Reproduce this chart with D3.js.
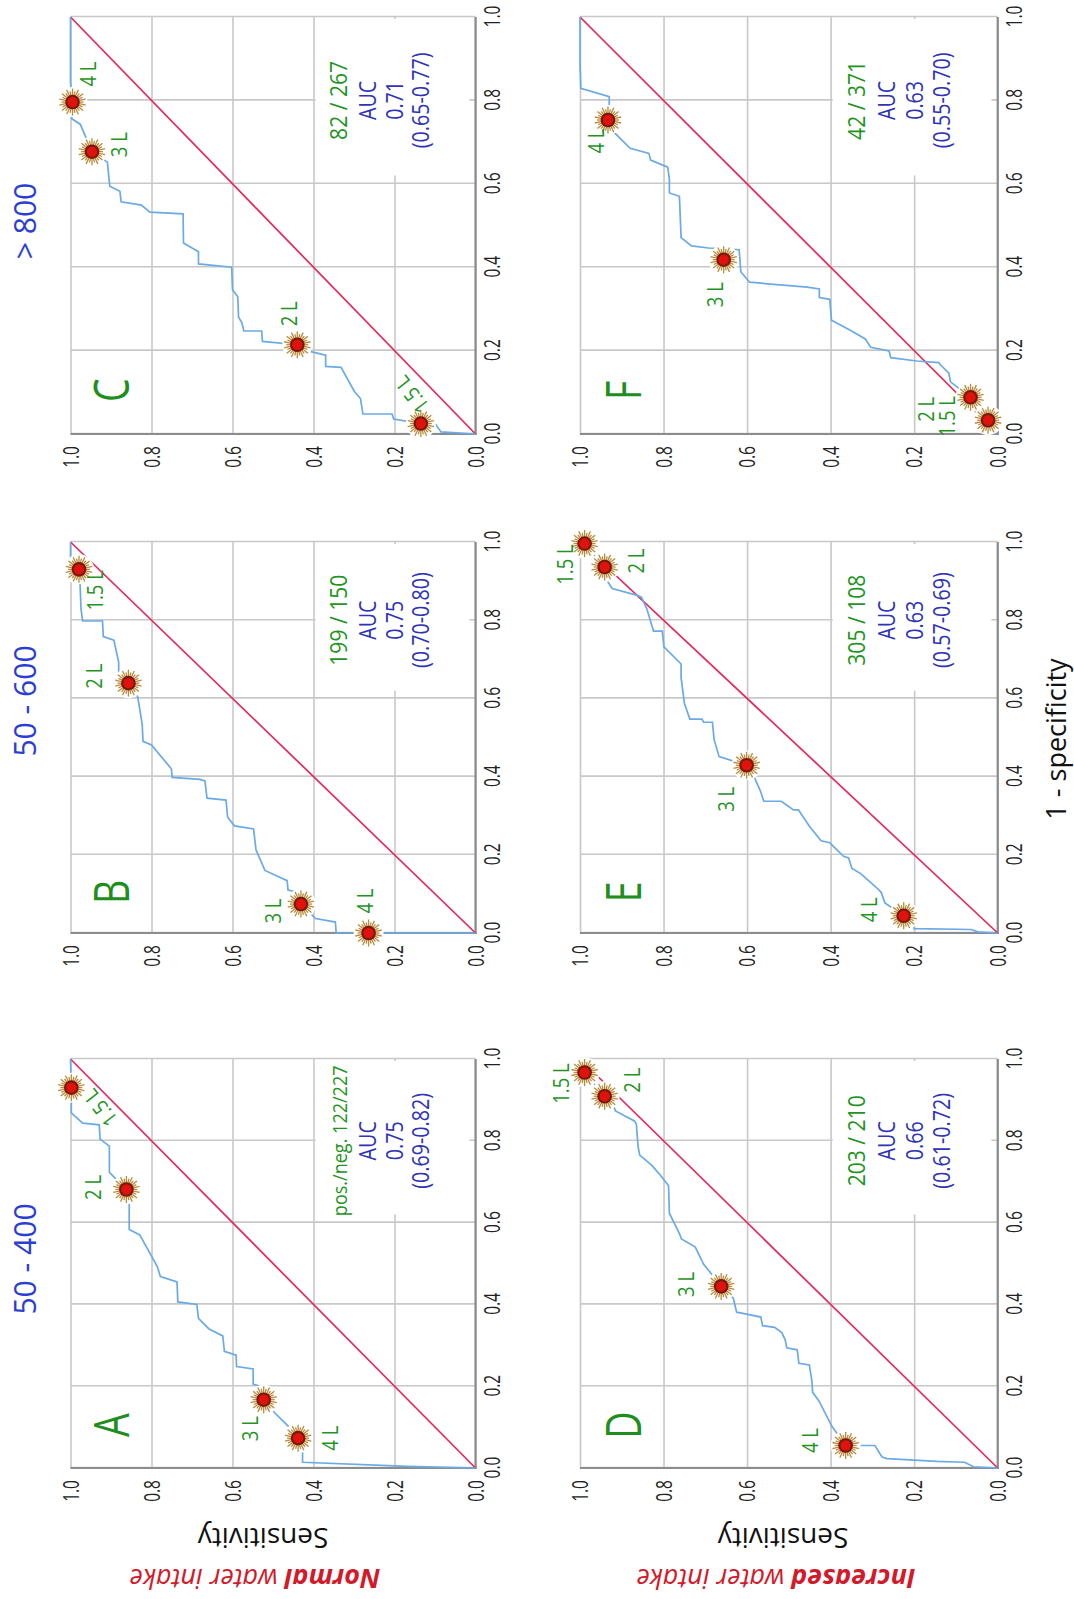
<!DOCTYPE html>
<html><head><meta charset="utf-8">
<script src="https://cdn.jsdelivr.net/npm/d3@7"></script>
<style>
body{margin:0;background:#fff}
svg{display:block}
text{font-family:"Open Sans","Noto Sans",sans-serif}
</style>
</head><body>
<svg id="chart" width="1074" height="1599"></svg>
<script>
// ---------- data ----------
const tickValues = [0, 0.2, 0.4, 0.6, 0.8, 1.0];
const tickLabels = ["0.0", "0.2", "0.4", "0.6", "0.8", "1.0"];
const columnTitles = ["50 - 400", "50 - 600", "> 800"];
const rowTitlesBold = ["Normal", "Increased"];
const rowTitlesRest = [" water intake", " water intake"];
const yAxisTitle = "Sensitivity";
const xAxisTitle = "1 - specificity";
const panelLetters = ["A", "B", "C", "D", "E", "F"];
const posNeg = ["pos./neg. 122/227", "199 / 150", "82 / 267", "203 / 210", "305 / 108", "42 / 371"];
const aucValues = ["0.75", "0.75", "0.71", "0.66", "0.63", "0.63"];
const aucCI = ["(0.69-0.82)", "(0.70-0.80)", "(0.65-0.77)", "(0.61-0.72)", "(0.57-0.69)", "(0.55-0.70)"];

// ROC curves: [1 - specificity, sensitivity]
const rocA = [[0,0],[0.004,0.167],[0.014,0.427],[0.037,0.427],[0.073,0.438],[0.10,0.46],[0.135,0.496],[0.167,0.523],[0.199,0.530],[0.205,0.549],[0.242,0.549],[0.248,0.590],[0.276,0.591],[0.285,0.620],[0.323,0.624],[0.340,0.658],[0.366,0.684],[0.400,0.688],[0.406,0.735],[0.455,0.737],[0.468,0.778],[0.493,0.786],[0.570,0.829],[0.583,0.855],[0.643,0.855],[0.681,0.862],[0.723,0.904],[0.787,0.904],[0.804,0.927],[0.839,0.929],[0.843,0.970],[0.868,0.998],[0.93,0.998],[1,1]];
const rocB = [[0,0],[0,0.344],[0.028,0.346],[0.037,0.395],[0.074,0.431],[0.105,0.443],[0.110,0.463],[0.134,0.465],[0.147,0.493],[0.160,0.520],[0.213,0.542],[0.266,0.548],[0.274,0.595],[0.296,0.612],[0.340,0.616],[0.345,0.663],[0.389,0.668],[0.393,0.680],[0.398,0.749],[0.420,0.751],[0.481,0.800],[0.490,0.821],[0.534,0.823],[0.604,0.834],[0.639,0.857],[0.666,0.881],[0.692,0.881],[0.749,0.893],[0.758,0.919],[0.798,0.921],[0.798,0.970],[0.828,0.974],[0.908,0.977],[0.930,0.979],[0.960,1.0],[1,1]];
const rocC = [[0,0],[0.005,0.085],[0.025,0.1],[0.025,0.135],[0.036,0.202],[0.048,0.206],[0.048,0.278],[0.085,0.284],[0.102,0.299],[0.160,0.332],[0.162,0.370],[0.189,0.370],[0.197,0.404],[0.214,0.440],[0.222,0.526],[0.247,0.528],[0.247,0.572],[0.267,0.577],[0.280,0.585],[0.329,0.587],[0.346,0.600],[0.400,0.602],[0.408,0.684],[0.437,0.684],[0.458,0.721],[0.528,0.722],[0.532,0.804],[0.549,0.825],[0.557,0.875],[0.582,0.878],[0.594,0.903],[0.652,0.909],[0.677,0.947],[0.743,0.976],[0.756,0.997],[0.796,0.995],[0.843,1.0],[1,1]];
const rocD = [[0,0],[0.003,0.058],[0.014,0.079],[0.016,0.145],[0.023,0.265],[0.027,0.277],[0.055,0.294],[0.055,0.331],[0.055,0.364],[0.102,0.397],[0.164,0.428],[0.185,0.443],[0.214,0.445],[0.252,0.451],[0.256,0.476],[0.289,0.480],[0.294,0.505],[0.314,0.509],[0.331,0.517],[0.344,0.534],[0.348,0.563],[0.369,0.567],[0.377,0.604],[0.381,0.625],[0.415,0.633],[0.444,0.662],[0.477,0.687],[0.498,0.704],[0.540,0.724],[0.560,0.757],[0.573,0.762],[0.623,0.786],[0.690,0.788],[0.715,0.807],[0.740,0.828],[0.765,0.857],[0.786,0.861],[0.840,0.865],[0.848,0.869],[0.873,0.915],[0.885,0.92],[0.909,0.941],[0.967,0.989],[1,1]];
const rocE = [[0,0],[0.003,0.047],[0.009,0.064],[0.011,0.200],[0.028,0.205],[0.044,0.225],[0.077,0.270],[0.104,0.279],[0.117,0.291],[0.152,0.328],[0.165,0.349],[0.192,0.357],[0.196,0.369],[0.222,0.394],[0.231,0.402],[0.236,0.423],[0.275,0.452],[0.315,0.477],[0.315,0.489],[0.337,0.518],[0.337,0.560],[0.363,0.568],[0.402,0.584],[0.429,0.601],[0.451,0.667],[0.495,0.679],[0.539,0.683],[0.539,0.704],[0.547,0.708],[0.547,0.737],[0.587,0.750],[0.653,0.758],[0.688,0.758],[0.732,0.799],[0.772,0.803],[0.772,0.824],[0.829,0.840],[0.859,0.853],[0.864,0.865],[0.881,0.923],[0.903,0.936],[0.936,0.941],[0.996,0.989],[1,1]];
const rocF = [[0,0],[0.033,0.023],[0.06,0.045],[0.088,0.065],[0.109,0.092],[0.125,0.113],[0.146,0.117],[0.166,0.137],[0.171,0.141],[0.175,0.194],[0.183,0.256],[0.199,0.260],[0.208,0.304],[0.228,0.317],[0.249,0.353],[0.273,0.398],[0.323,0.402],[0.327,0.427],[0.348,0.427],[0.352,0.456],[0.364,0.594],[0.389,0.615],[0.442,0.619],[0.446,0.692],[0.451,0.733],[0.471,0.758],[0.570,0.762],[0.578,0.786],[0.611,0.786],[0.640,0.790],[0.657,0.831],[0.673,0.835],[0.685,0.880],[0.722,0.917],[0.753,0.933],[0.776,0.930],[0.809,0.930],[0.829,0.998],[0.887,1.0],[1,1]];

// cut-off markers: [label, 1 - specificity, sensitivity]
const markersA = [["4 L",0.073,0.438],["3 L",0.167,0.523],["2 L",0.681,0.862],["1.5 L",0.93,0.998]];
const markersB = [["4 L",0.0,0.264],["3 L",0.074,0.431],["2 L",0.639,0.857],["1.5 L",0.930,0.979]];
const markersC = [["1.5 L",0.025,0.135],["2 L",0.214,0.44],["3 L",0.677,0.947],["4 L",0.796,0.995]];
const markersD = [["4 L",0.055,0.364],["3 L",0.444,0.662],["2 L",0.909,0.941],["1.5 L",0.967,0.989]];
const markersE = [["4 L",0.044,0.225],["3 L",0.429,0.601],["2 L",0.936,0.941],["1.5 L",0.996,0.989]];
const markersF = [["1.5 L",0.033,0.023],["2 L",0.088,0.065],["3 L",0.418,0.656],["4 L",0.753,0.933]];

const rocs = [rocA, rocB, rocC, rocD, rocE, rocF];
const markerSets = [markersA, markersB, markersC, markersD, markersE, markersF];

// ---------- layout (figure is drawn landscape, then rotated) ----------
const cols = [{x0:131, x1:540}, {x0:666, x1:1057}, {x0:1165, x1:1582}];
const rows = [{y0:475.5, y1:70.5}, {y0:997.7, y1:580}];
const titleX = [340, 898, 1378];
const rowTitleY = [255, 776];
const sensTitleY = [263, 783];
// label offsets in px: [dx, dy, rotation]
const labelLayout = [
  [[0,32,0],[-29,-13,0],[2,-33,0],[-20,29,-38]],
  [[32,-3,0],[-7,-28,0],[7,-34,0],[-21,16,0]],
  [[29,-9,-38],[31,-8,0],[7,27,0],[28,16,0]],
  [[5,-35,0],[2,-35,0],[16,28,0],[-11,-23,0]],
  [[6,-34,0],[-34,-20,0],[6,32,0],[-21,-19,0]],
  [[4,-41,0],[-12,-44,0],[-35,-8,0],[-21,-12,0]]
];
const countFont = [20.5, 24, 24, 24, 24, 24];

const GREEN = "#1f951f", BLUE = "#2e33b8", TITLEBLUE = "#2a3ed6", RED = "#d31a2b";

const svg = d3.select("#chart");
svg.append("rect").attr("width",1074).attr("height",1599).attr("fill","#fff");
const root = svg.append("g").attr("transform","translate(0,1599) rotate(-90)");

// column titles
columnTitles.forEach((t,i)=>{
  root.append("text").attr("transform",`translate(${titleX[i]},36) scale(0.97,1)`)
    .attr("text-anchor","middle").attr("font-size",31).attr("fill",TITLEBLUE).text(t);
});
// row titles
rowTitlesBold.forEach((t,i)=>{
  const tx = root.append("text").attr("transform",`translate(30,${rowTitleY[i]}) rotate(-90)`)
    .attr("text-anchor","middle").attr("font-size",27).attr("fill",RED).attr("font-style","italic");
  tx.append("tspan").attr("font-weight","bold").text(t);
  tx.append("tspan").text(rowTitlesRest[i]);
});
// y axis titles
sensTitleY.forEach(yy=>{
  root.append("text").attr("transform",`translate(71,${yy}) rotate(-90)`)
    .attr("text-anchor","middle").attr("font-size",28).attr("fill","#111").text(yAxisTitle);
});
// x axis title
root.append("text").attr("x",860).attr("y",1066).attr("text-anchor","middle")
  .attr("font-size",27).attr("fill","#111").text(xAxisTitle);

function starMarker(g){
  g.append("circle").attr("r",15).attr("fill","#fff");
  const rays = d3.range(28);
  g.selectAll("line.ray").data(rays).join("line").attr("class","ray")
    .attr("x1",k=>6*Math.cos(k/28*2*Math.PI)).attr("y1",k=>6*Math.sin(k/28*2*Math.PI))
    .attr("x2",k=>(k%2?11:13.5)*Math.cos(k/28*2*Math.PI)).attr("y2",k=>(k%2?11:13.5)*Math.sin(k/28*2*Math.PI))
    .attr("stroke","#b98b3a").attr("stroke-width",1.3);
  g.append("circle").attr("r",7.3).attr("fill","#7a170c");
  g.append("circle").attr("r",5.2).attr("fill","#e0120c");
}

panelLetters.forEach((letter,i)=>{
  const c = cols[i%3], r = rows[Math.floor(i/3)];
  const x = d3.scaleLinear().domain([0,1]).range([c.x0,c.x1]);
  const y = d3.scaleLinear().domain([0,1]).range([r.y0,r.y1]);
  const g = root.append("g");

  // gridlines
  g.append("g").attr("transform",`translate(0,${r.y0})`)
    .call(d3.axisBottom(x).tickValues(tickValues).tickSize(-(r.y0-r.y1)).tickFormat(""))
    .call(a=>a.select(".domain").remove())
    .call(a=>a.selectAll("line").attr("stroke","#c8c8c8").attr("stroke-width",1.6));
  g.append("g").attr("transform",`translate(${c.x0},0)`)
    .call(d3.axisLeft(y).tickValues(tickValues).tickSize(-(c.x1-c.x0)).tickFormat(""))
    .call(a=>a.select(".domain").remove())
    .call(a=>a.selectAll("line").attr("stroke","#c8c8c8").attr("stroke-width",1.6));
  // axis lines
  g.append("line").attr("x1",x(0)).attr("x2",x(0)).attr("y1",y(0)+1).attr("y2",y(1))
    .attr("stroke","#8c8c8c").attr("stroke-width",2.2);
  g.append("line").attr("x1",x(0)-1).attr("x2",x(1)).attr("y1",y(0)).attr("y2",y(0))
    .attr("stroke","#8c8c8c").attr("stroke-width",2.2);

  // tick labels
  const bx = g.append("g").attr("transform",`translate(0,${r.y0+17})`)
    .call(d3.axisBottom(x).tickValues(tickValues).tickSize(0).tickPadding(0).tickFormat((d,k)=>tickLabels[k]));
  bx.select(".domain").remove();
  bx.selectAll("text").attr("y",0).attr("dy","0.36em").attr("font-size",21).attr("fill","#222")
    .attr("transform","scale(0.74,1)");
  const lx = g.append("g").attr("transform",`translate(${c.x0-12},0)`)
    .call(d3.axisLeft(y).tickValues(tickValues).tickSize(0).tickPadding(0).tickFormat((d,k)=>tickLabels[k]));
  lx.select(".domain").remove();
  lx.selectAll("text").attr("x",0).attr("dy","0.36em").attr("font-size",21).attr("fill","#222")
    .attr("transform","scale(0.74,1)");

  // annotation box + text
  g.append("rect").attr("x",x(0.62)).attr("width",x(1)-x(0.62)-2)
    .attr("y",y(0.395)).attr("height",y(0.015)-y(0.395)).attr("fill","#fff");
  const ann = [[posNeg[i],GREEN,countFont[i],0.88,0.318],["AUC",BLUE,24,0.82,0.246],[aucValues[i],BLUE,24,0.82,0.18],[aucCI[i],BLUE,24,0.82,0.114]];
  ann.forEach(([t,col,fs,sx,sv])=>{
    g.append("text").attr("transform",`translate(${x(0.80)},${y(sv)}) scale(${sx},1)`)
      .attr("text-anchor","middle").attr("font-size",fs).attr("fill",col).text(t);
  });

  // panel letter
  g.append("text").attr("transform",`translate(${x(0.105)},${y(0.855)}) scale(0.75,1)`)
    .attr("text-anchor","middle").attr("font-size",50).attr("fill","#1e8f1e").text(letter);

  // diagonal
  g.append("line").attr("x1",x(0)).attr("y1",y(0)).attr("x2",x(1)).attr("y2",y(1))
    .attr("stroke","#e5285a").attr("stroke-width",1.7);
  // ROC curve
  g.append("path").datum(rocs[i]).attr("fill","none").attr("stroke","#6aaae6").attr("stroke-width",1.7)
    .attr("d",d3.line().x(d=>x(d[0])).y(d=>y(d[1])));

  // markers
  const ms = markerSets[i];
  ms.forEach(m=>{ starMarker(g.append("g").attr("transform",`translate(${x(m[1])},${y(m[2])})`)); });
  ms.forEach((m,k)=>{
    const [dx,dy,rot] = labelLayout[i][k];
    g.append("text").attr("transform",`translate(${x(m[1])+dx},${y(m[2])+dy}) rotate(${rot}) scale(0.88,1)`)
      .attr("text-anchor","middle").attr("dy","0.36em").attr("font-size",21).attr("fill",GREEN).text(m[0]);
  });
});
</script>
</body></html>
